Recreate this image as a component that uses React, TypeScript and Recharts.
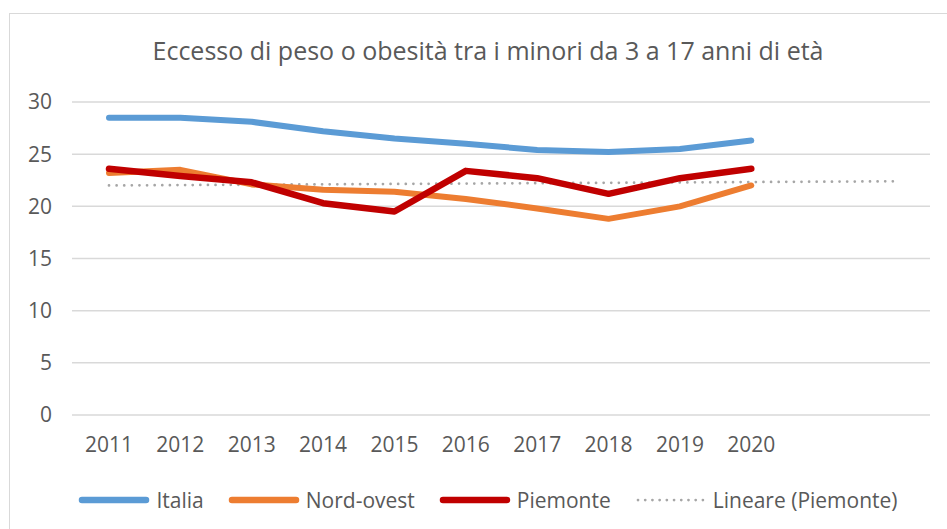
import React from "react";
import { CartesianGrid, Legend, Line, LineChart, XAxis, YAxis } from "recharts";

// anni osservati + 2 periodi di previsione della linea di tendenza
const years = ["2011", "2012", "2013", "2014", "2015", "2016", "2017", "2018", "2019", "2020"];
const forecastYears = ["2021", "2022"];

const italia = [28.5, 28.5, 28.1, 27.2, 26.5, 26.0, 25.4, 25.2, 25.5, 26.3];
const nordOvest = [23.2, 23.5, 22.1, 21.6, 21.4, 20.7, 19.8, 18.8, 20.0, 22.0];
const piemonte = [23.6, 22.9, 22.3, 20.3, 19.5, 23.4, 22.7, 21.2, 22.7, 23.6];
// Lineare (Piemonte): estremi
const trendStart = 22.0;
const trendEnd = 22.4;

const yTicks = [0, 5, 10, 15, 20, 25, 30];

const allYears = [...years, ...forecastYears];
const data = allYears.map((year, i) => ({
  year,
  italia: i < years.length ? italia[i] : null,
  nordOvest: i < years.length ? nordOvest[i] : null,
  piemonte: i < years.length ? piemonte[i] : null,
  trend: i === 0 ? trendStart : i === allYears.length - 1 ? trendEnd : null,
}));

const FONT = "'Open Sans', sans-serif";
const TEXT = "#595959";

const legendItems = [
  { label: "Italia", color: "#5B9BD5", dotted: false },
  { label: "Nord-ovest", color: "#ED7D31", dotted: false },
  { label: "Piemonte", color: "#C00000", dotted: false },
  { label: "Lineare (Piemonte)", color: "#A6A6A6", dotted: true },
];

function ChartLegend() {
  return (
    <div
      style={{
        display: "flex",
        justifyContent: "center",
        alignItems: "center",
        gap: 24,
        height: 30,
        paddingLeft: 36,
        paddingTop: 5,
        fontFamily: FONT,
        fontSize: 21,
        color: TEXT,
      }}
    >
      {legendItems.map((item) => (
        <div key={item.label} style={{ display: "flex", alignItems: "center" }}>
          <svg width={72} height={12}>
            {item.dotted ? (
              <line x1={3} y1={6} x2={69} y2={6} stroke={item.color} strokeWidth={2.75}
                strokeDasharray="0.01 7.2" strokeLinecap="round" />
            ) : (
              <line x1={4} y1={6} x2={68} y2={6} stroke={item.color} strokeWidth={6.5}
                strokeLinecap="round" />
            )}
          </svg>
          <span style={{ marginLeft: 6 }}>{item.label}</span>
        </div>
      ))}
    </div>
  );
}

export default function App() {
  return (
    <div
      style={{
        position: "absolute",
        left: 9,
        top: 13,
        width: 938,
        height: 516,
        borderLeft: "1.5px solid #D9D9D9",
        borderTop: "1.5px solid #D9D9D9",
        background: "#fff",
      }}
    >
      <div
        style={{
          position: "absolute",
          top: 19,
          left: 0,
          width: 956,
          textAlign: "center",
          fontFamily: FONT,
          fontSize: 25,
          color: TEXT,
        }}
      >
        Eccesso di peso o obesità tra i minori da 3 a 17 anni di età
      </div>
      <LineChart width={938} height={516} data={data}
        margin={{ top: 88, right: 18, left: 0, bottom: 20 }}>
        <CartesianGrid vertical={false} stroke="#D9D9D9" strokeWidth={1.5} />
        <XAxis
          dataKey="year"
          axisLine={false}
          tickLine={false}
          tickSize={0}
          tickMargin={22}
          height={65}
          interval={0}
          padding={{ left: 37, right: 36 }}
          tick={{ fill: TEXT, fontSize: 21, fontFamily: FONT }}
          tickFormatter={(v: string) => (years.includes(v) ? v : "")}
        />
        <YAxis
          domain={[0, 30]}
          ticks={yTicks}
          width={62}
          axisLine={false}
          tickLine={false}
          tickSize={0}
          tickMargin={20}
          tick={{ fill: TEXT, fontSize: 21, fontFamily: FONT }}
        />
        <Legend verticalAlign="bottom" height={30} content={() => <ChartLegend />} />
        <Line dataKey="trend" stroke="#A6A6A6" strokeWidth={2.75} strokeDasharray="0.01 7.6"
          strokeLinecap="round" dot={false} connectNulls isAnimationActive={false} />
        <Line dataKey="italia" stroke="#5B9BD5" strokeWidth={6} strokeLinecap="round"
          strokeLinejoin="round" dot={false} isAnimationActive={false} />
        <Line dataKey="nordOvest" stroke="#ED7D31" strokeWidth={6} strokeLinecap="round"
          strokeLinejoin="round" dot={false} isAnimationActive={false} />
        <Line dataKey="piemonte" stroke="#C00000" strokeWidth={6.5} strokeLinecap="round"
          strokeLinejoin="round" dot={false} isAnimationActive={false} />
      </LineChart>
    </div>
  );
}
